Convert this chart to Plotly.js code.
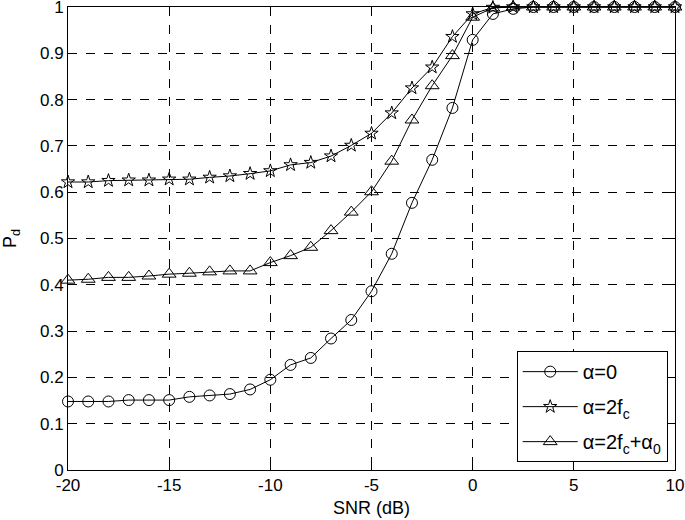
<!DOCTYPE html>
<html>
<head>
<meta charset="utf-8">
<script src="https://cdn.plot.ly/plotly-3.0.1.min.js"></script>
<style>
  html,body{margin:0;padding:0;background:#fff;}
  #chart{width:685px;height:520px;}
</style>
</head>
<body>
<div id="chart"></div>
<script>
const snr = [-20,-19,-18,-17,-16,-15,-14,-13,-12,-11,-10,-9,-8,-7,-6,-5,-4,-3,-2,-1,0,1,2,3,4,5,6,7,8,9,10];

// alpha = 0
const pdAlpha0 = [0.148,0.148,0.148,0.151,0.151,0.151,0.158,0.161,0.164,0.174,0.195,0.227,0.242,0.284,0.324,0.386,
  0.467,0.577,0.670,0.782,0.929,0.985,0.996,1,1,1,1,1,1,1,1];
// alpha = 2fc
const pd2fc = [0.622,0.622,0.625,0.626,0.626,0.628,0.628,0.632,0.635,0.640,0.646,0.659,0.664,0.678,0.701,0.727,
  0.771,0.825,0.870,0.936,0.985,0.999,1,1,1,1,1,1,1,1,1];
// alpha = 2fc + alpha0
const pd2fcA0 = [0.410,0.412,0.416,0.416,0.419,0.423,0.425,0.428,0.430,0.430,0.448,0.463,0.481,0.517,0.557,0.601,
  0.667,0.756,0.830,0.895,0.978,0.998,1,1,1,1,1,1,1,1,1];

const xTicks = [-20,-15,-10,-5,0,5,10];
const xTickText = ['-20','-15','-10','-5','0','5','10'];
const yTicks = [0,0.1,0.2,0.3,0.4,0.5,0.6,0.7,0.8,0.9,1];
const yTickText = ['0','0.1','0.2','0.3','0.4','0.5','0.6','0.7','0.8','0.9','1'];

const names = ['α=0', 'α=2f<sub>c</sub>', 'α=2f<sub>c</sub>+α<sub>0</sub>'];
const symbols = ['circle-open', 'star-open', 'triangle-up-open'];
const sizes = [11, 10, 12];
const series = [pdAlpha0, pd2fc, pd2fcA0];

const traces = series.map((ys, i) => ({
  x: snr, y: ys, name: names[i], legendgroup: 'g' + i,
  type: 'scatter', mode: 'lines+markers',
  line: {color: '#000', width: 1},
  marker: {symbol: symbols[i], size: sizes[i], color: '#000', line: {color: '#000', width: 1}},
  cliponaxis: false
}));

const font = {family: 'Liberation Sans, Arial, Helvetica, sans-serif', size: 17, color: '#000'};

const layout = {
  width: 685, height: 520,
  margin: {l: 68, r: 10, t: 7, b: 50},
  paper_bgcolor: '#fff', plot_bgcolor: '#fff',
  font: font,
  showlegend: true,
  legend: {
    x: 0.988, xanchor: 'right', y: 0.017, yanchor: 'bottom',
    bgcolor: '#fff', bordercolor: '#000', borderwidth: 1,
    font: {family: font.family, size: 20, color: '#000'},
    tracegroupgap: 6, itemwidth: 55
  },
  xaxis: {
    range: [-20, 10], tickvals: xTicks, ticktext: xTickText,
    ticks: 'inside', ticklen: 5, tickcolor: '#000', ticklabeloverflow: 'allow',
    showline: true, linecolor: '#000', linewidth: 1, mirror: 'ticks',
    showgrid: true, gridcolor: '#000', griddash: 'dash', gridwidth: 1,
    zeroline: false,
    title: {text: 'SNR (dB)', font: {family: font.family, size: 18, color: '#000'}, standoff: 6}
  },
  yaxis: {
    range: [0, 1], tickvals: yTicks, ticktext: yTickText,
    ticks: 'inside', ticklen: 5, tickcolor: '#000', ticklabeloverflow: 'allow',
    showline: true, linecolor: '#000', linewidth: 1, mirror: 'ticks',
    showgrid: true, gridcolor: '#000', griddash: 'dash', gridwidth: 1,
    zeroline: false,
    title: {text: 'P<sub>d</sub>', font: {family: font.family, size: 18, color: '#000'}, standoff: 18}
  }
};

Plotly.newPlot('chart', traces, layout, {displayModeBar: false, staticPlot: true});
</script>
</body>
</html>
